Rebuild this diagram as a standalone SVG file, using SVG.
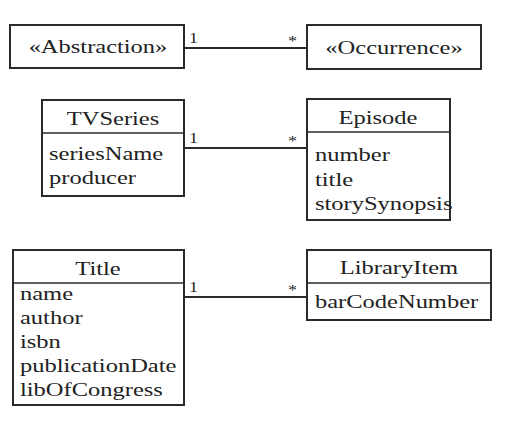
<svg xmlns="http://www.w3.org/2000/svg" width="509" height="424" viewBox="0 0 509 424">
<style>
.box{fill:#fff;stroke:#2a2a2a;stroke-width:2}
.div{stroke:#2a2a2a;stroke-width:1.5}
.conn{stroke:#2a2a2a;stroke-width:1.8;fill:none}
text{font-family:"Liberation Serif","Times New Roman",serif;font-size:19px;fill:#222}
.c{text-anchor:middle}
.m{font-size:14px}
</style>
<rect width="509" height="424" fill="#fff"/>
<g id="connectors">
<line class="conn" x1="184" y1="48" x2="307" y2="48"/>
<line class="conn" x1="184" y1="148" x2="307" y2="148"/>
<line class="conn" x1="184" y1="297" x2="307" y2="297"/>
<text class="m" transform="matrix(1.29 0 0 1 189 43)">1</text>
<text class="m" transform="matrix(1.29 0 0 1 288 46)">*</text>
<text class="m" transform="matrix(1.29 0 0 1 189 143)">1</text>
<text class="m" transform="matrix(1.29 0 0 1 288 146)">*</text>
<text class="m" transform="matrix(1.29 0 0 1 189 292)">1</text>
<text class="m" transform="matrix(1.29 0 0 1 288 295)">*</text>
</g>
<g id="abstraction">
<rect class="box" x="10" y="25" width="174" height="43"/>
<text class="c" transform="matrix(1.29 0 0 1 98 53)">«Abstraction»</text>
</g>
<g id="occurrence">
<rect class="box" x="307" y="25" width="174" height="44"/>
<text class="c" transform="matrix(1.29 0 0 1 394 54)">«Occurrence»</text>
</g>
<g id="tvseries">
<rect class="box" x="42" y="100" width="142" height="96"/>
<line class="div" x1="42" y1="133" x2="184" y2="133"/>
<text class="c" transform="matrix(1.29 0 0 1 113 125)">TVSeries</text>
<text transform="matrix(1.29 0 0 1 49 160)">seriesName</text>
<text transform="matrix(1.29 0 0 1 49 184)">producer</text>
</g>
<g id="episode">
<rect class="box" x="307" y="99" width="143" height="121"/>
<line class="div" x1="307" y1="132" x2="450" y2="132"/>
<text class="c" transform="matrix(1.29 0 0 1 378 124)">Episode</text>
<text transform="matrix(1.29 0 0 1 315 161)">number</text>
<text transform="matrix(1.29 0 0 1 315 186)">title</text>
<text transform="matrix(1.29 0 0 1 315 210)">storySynopsis</text>
</g>
<g id="title">
<rect class="box" x="13" y="250" width="171" height="155"/>
<line class="div" x1="13" y1="283" x2="184" y2="283"/>
<text class="c" transform="matrix(1.29 0 0 1 98 275)">Title</text>
<text transform="matrix(1.29 0 0 1 20 300)">name</text>
<text transform="matrix(1.29 0 0 1 20 324)">author</text>
<text transform="matrix(1.29 0 0 1 20 348)">isbn</text>
<text transform="matrix(1.29 0 0 1 20 372)">publicationDate</text>
<text transform="matrix(1.29 0 0 1 20 396)">libOfCongress</text>
</g>
<g id="libraryitem">
<rect class="box" x="307" y="250" width="184" height="70"/>
<line class="div" x1="307" y1="283" x2="491" y2="283"/>
<text class="c" transform="matrix(1.29 0 0 1 399 274)">LibraryItem</text>
<text transform="matrix(1.29 0 0 1 315 308)">barCodeNumber</text>
</g>
</svg>
